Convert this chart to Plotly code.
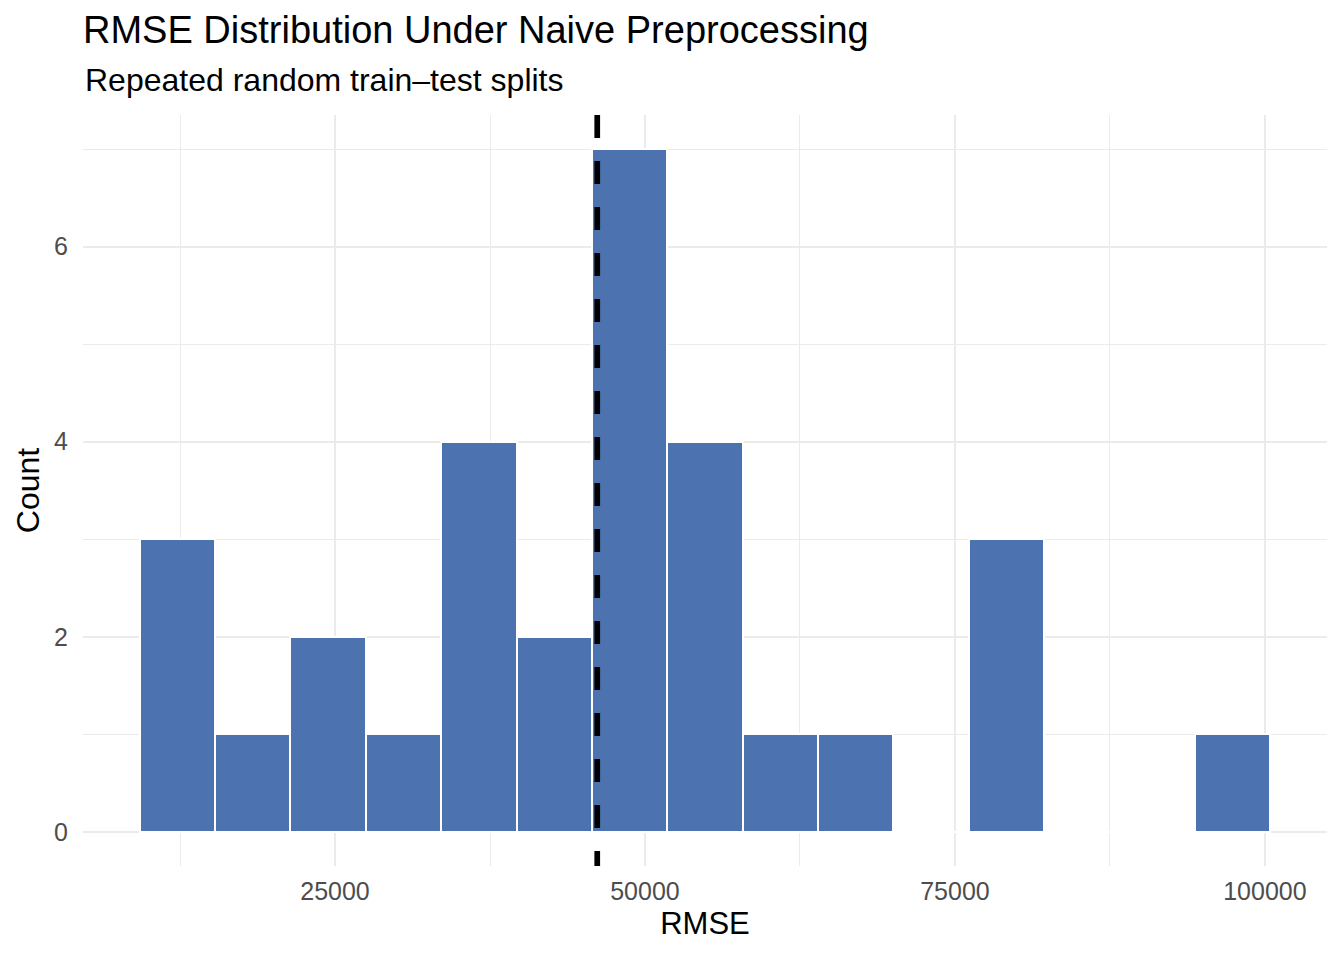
import plotly.graph_objects as go

# ---- data ----
bin_start = 9234          # left edge of first histogram bin (RMSE)
bin_width = 6081          # width of each bin (RMSE)
counts = [3, 1, 2, 1, 4, 2, 7, 4, 1, 1, 0, 3, 0, 0, 1]
mean_rmse = 46150         # dashed reference line
x_tick_vals = [25000, 50000, 75000, 100000]
x_tick_text = ["25000", "50000", "75000", "100000"]
y_tick_vals = [0, 2, 4, 6]

title_text = "RMSE Distribution Under Naive Preprocessing"
subtitle_text = "Repeated random train\u2013test splits"
x_label = "RMSE"
y_label = "Count"

# ---- derived ----
n = len(counts)
centers = [bin_start + bin_width * (i + 0.5) for i in range(n)]
x_lo = bin_start
x_hi = bin_start + bin_width * n
x_pad = 0.05 * (x_hi - x_lo)
y_hi = max(counts)
y_pad = 0.05 * y_hi

FONT = "Liberation Sans, Arial, sans-serif"
BAR = "#4C72B0"
GRID = "#EBEBEB"

# page body has an 8px default margin, so the figure is drawn 8px smaller
W, H = 1328, 944

fig = go.Figure()
fig.add_trace(go.Bar(
    x=centers, y=counts, width=[bin_width] * n,
    marker=dict(color=BAR, line=dict(color="white", width=2)),
    hoverinfo="x+y", showlegend=False,
))

fig.add_shape(type="line", xref="x", yref="paper",
              x0=mean_rmse, x1=mean_rmse, y0=1, y1=0,
              line=dict(color="black", width=5.7, dash="23px,23px"),
              layer="above")

fig.update_layout(
    width=W, height=H,
    paper_bgcolor="white", plot_bgcolor="white",
    margin=dict(l=75, r=9, t=107, b=86, autoexpand=False),
    font=dict(family=FONT, color="black"),
    bargap=0,
    title=dict(text=title_text, x=75 / W, xanchor="left", xref="container",
               y=1 - 22 / H, yanchor="middle", yref="container",
               font=dict(size=38, color="black", family=FONT)),
    annotations=[dict(text=subtitle_text, xref="paper", yref="paper",
                      x=0, xanchor="left", y=1 + 35 / 751, yanchor="middle",
                      showarrow=False,
                      font=dict(size=32, color="black", family=FONT))],
)

fig.update_xaxes(
    range=[x_lo - x_pad, x_hi + x_pad],
    tickmode="array", tickvals=x_tick_vals, ticktext=x_tick_text,
    tickfont=dict(size=25, color="#4D4D4D", family=FONT),
    ticks="", ticklabelstandoff=8,
    showgrid=True, gridcolor=GRID, gridwidth=2,
    minor=dict(dtick=12500, tick0=0, showgrid=True, gridcolor=GRID, gridwidth=1.3),
    zeroline=False, showline=False,
    title=dict(text=x_label, font=dict(size=31, color="black", family=FONT), standoff=8),
)
fig.update_yaxes(
    range=[-y_pad, y_hi + y_pad],
    tickmode="array", tickvals=y_tick_vals,
    tickfont=dict(size=25, color="#4D4D4D", family=FONT),
    ticks="", ticklabelstandoff=14,
    showgrid=True, gridcolor=GRID, gridwidth=2,
    minor=dict(dtick=1, tick0=0, showgrid=True, gridcolor=GRID, gridwidth=1.3),
    zeroline=False, showline=False,
    title=dict(text=y_label, font=dict(size=32, color="black", family=FONT), standoff=4),
)

fig.write_html("out.html")
